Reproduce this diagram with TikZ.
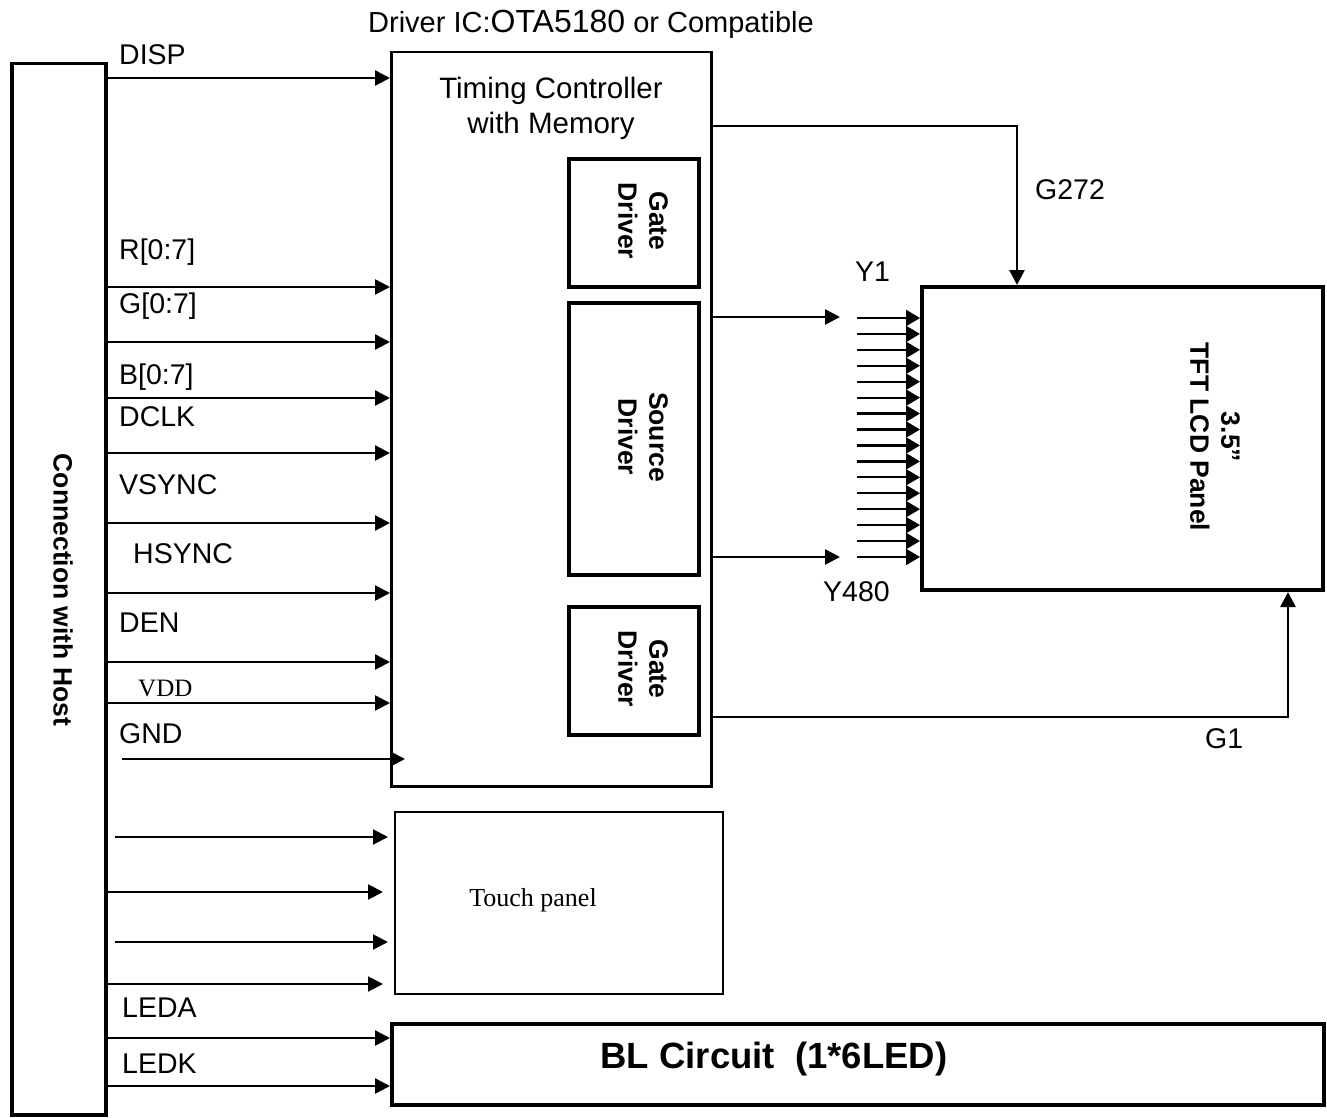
\documentclass[tikz,border=0pt]{standalone}
\usepackage{fontspec}
\setmainfont{Liberation Sans}
\newfontfamily\serifface{Liberation Serif}
\usetikzlibrary{arrows.meta,calc}
\tikzset{
  lbl/.style={font=\fontsize{28.5}{34}\selectfont, inner sep=0pt, anchor=base west},
  box/.style={draw, anchor=north west, inner sep=0pt},
  sig/.style={line width=2.5pt, -{Triangle[length=15pt,width=15pt]}},
  sigthin/.style={line width=2pt, -{Triangle[length=15pt,width=15pt]}},
  fan/.style={line width=2.3pt, -{Triangle[length=14pt,width=16pt]}},
  vtext/.style={rotate=-90, align=center, inner sep=0pt, font=\fontsize{26.5}{31}\selectfont\bfseries}
}
\begin{document}
\begin{tikzpicture}[x=1pt,y=-1pt]
\useasboundingbox (0,0) rectangle (1327,1118);
% boxes
\node[box, line width=3.5pt, minimum width=94pt, minimum height=1051pt] (host) at (10,62) {};
\node[box, line width=2.5pt, minimum width=320pt, minimum height=734pt] (tcon) at (390,51) {};
\node[box, line width=4pt, minimum width=130pt, minimum height=128pt] (gdA) at (567,157) {};
\node[box, line width=4pt, minimum width=130pt, minimum height=272pt] (sd) at (567,301) {};
\node[box, line width=4pt, minimum width=130pt, minimum height=128pt] (gdB) at (567,605) {};
\node[box, line width=4pt, minimum width=401pt, minimum height=303pt] (panel) at (920,285) {};
\node[box, line width=1.5pt, minimum width=328pt, minimum height=182pt] (touch) at (394,811) {};
\node[box, line width=4pt, minimum width=932pt, minimum height=81pt] (bl) at (390,1022) {};
% box texts
\node[vtext] (hostT) at (63,590) {Connection with Host};
\node[vtext] (gdAT) at (643,221) {Gate\\Driver};
\node[vtext] (sdT) at (643,437) {Source\\Driver};
\node[vtext] (gdBT) at (643,669) {Gate\\Driver};
\node[vtext] (panelT) at (1215,437) {3.5”\\TFT LCD Panel};
\node[inner sep=0pt, align=center, font=\fontsize{29.5}{35}\selectfont] (tconT) at (551,108) {Timing Controller\\with Memory};
\node[inner sep=0pt, font=\serifface\fontsize{26}{30}\selectfont] (touchT) at (533,900) {Touch panel};
\node[inner sep=0pt, anchor=base, font=\fontsize{36.5}{40}\selectfont\bfseries] (blT) at (774,1068) {BL Circuit\ \ (1*6LED)};
\node[inner sep=0pt, anchor=base west] (title) at (368,33) {\fontsize{29}{34}\selectfont Driver IC:{\fontsize{32}{34}\selectfont OTA5180} or Compatible};
% signal labels
\node[lbl] (lDISP) at (119,65) {DISP};
\node[lbl] (lR) at (119,259) {R[0:7]};
\node[lbl] (lG) at (119,313) {G[0:7]};
\node[lbl] (lB) at (119,384) {B[0:7]};
\node[lbl] (lDCLK) at (119,426) {DCLK};
\node[lbl] (lVS) at (119,494) {VSYNC};
\node[lbl] (lHS) at (133,563) {HSYNC};
\node[lbl] (lDEN) at (119,632) {DEN};
\node[lbl, font=\serifface\fontsize{25}{30}\selectfont] (lVDD) at (138,696) {VDD};
\node[lbl] (lGND) at (119,743) {GND};
\node[lbl] (lLEDA) at (122,1017) {LEDA};
\node[lbl] (lLEDK) at (122,1073) {LEDK};
\node[lbl] (lY1) at (855,281) {Y1};
\node[lbl] (lY480) at (823,601) {Y480};
\node[lbl] (lG272) at (1035,200) {G272};
\node[lbl] (lG1) at (1205,748) {G1};
% host to timing controller
\foreach \yy in {78,287,342,398,453,523,593,662,703}
  \draw[sig] (host.east |- 0,\yy) -- (tcon.west |- 0,\yy);
\draw[sig] ($(host.east |- 0,759)+(14,0)$) -- ($(tcon.west |- 0,759)+(15,0)$);
% host to touch panel
\draw[sigthin] ($(host.east |- 0,837)+(7,0)$) -- ($(touch.west |- 0,837)+(-6,0)$);
\draw[sigthin] (host.east |- 0,892) -- ($(touch.west |- 0,892)+(-11,0)$);
\draw[sigthin] ($(host.east |- 0,942)+(7,0)$) -- ($(touch.west |- 0,942)+(-6,0)$);
\draw[sigthin] (host.east |- 0,984) -- ($(touch.west |- 0,984)+(-11,0)$);
% host to BL
\draw[sig] (host.east |- 0,1038) -- (bl.west |- 0,1038);
\draw[sig] (host.east |- 0,1086) -- (bl.west |- 0,1086);
% timing controller outputs
\draw[sig] (tcon.east |- 0,126) -| (panel.north -| 1017,0);
\draw[sig] (tcon.east |- 0,717) -| (panel.south -| 1288,0);
\draw[sig] (tcon.east |- 0,317) -- ($(panel.west |- 0,317)+(-80,0)$);
\draw[sig] (tcon.east |- 0,557) -- ($(panel.west |- 0,557)+(-80,0)$);
% fan-in to panel
\foreach \i in {0,...,15} {
  \pgfmathsetmacro\yy{318+\i*15.93}
  \draw[fan] ($(panel.west |- 0,\yy)+(-63,0)$) -- (panel.west |- 0,\yy);
}
\end{tikzpicture}
\end{document}
